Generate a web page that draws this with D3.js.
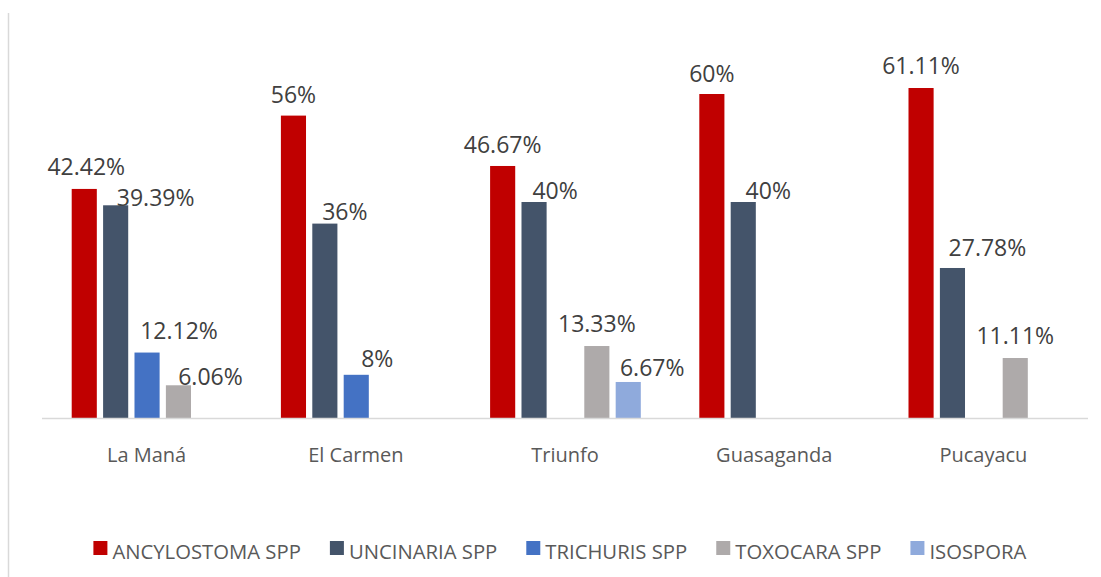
<!DOCTYPE html>
<html lang="es">
<head>
<meta charset="UTF-8">
<title>Parásitos por localidad</title>
<script src="https://cdnjs.cloudflare.com/ajax/libs/d3/7.8.5/d3.min.js"></script>
<style>
  * { margin: 0; padding: 0; }
  body { background: #fff; width: 1101px; height: 577px; overflow: hidden; }
  svg { display: block; font-family: "Open Sans", sans-serif; }
</style>
</head>
<body>
<div id="chart"></div>
<script>
// --- data ---
var localidades = ['La Maná', 'El Carmen', 'Triunfo', 'Guasaganda', 'Pucayacu'];
var seriesNames = ['ANCYLOSTOMA SPP', 'UNCINARIA SPP', 'TRICHURIS SPP', 'TOXOCARA SPP', 'ISOSPORA'];
var ancylostoma = [42.42, 56, 46.67, 60, 61.11];
var uncinaria = [39.39, 36, 40, 40, 27.78];
var trichuris = [12.12, 8, null, null, null];
var toxocara = [6.06, null, 13.33, null, 11.11];
var isospora = [null, null, 6.67, null, null];
var labelText = [
  ['42.42%', '56%', '46.67%', '60%', '61.11%'],
  ['39.39%', '36%', '40%', '40%', '27.78%'],
  ['12.12%', '8%', '', '', ''],
  ['6.06%', '', '13.33%', '', '11.11%'],
  ['', '', '6.67%', '', '']
];

var allSeries = [ancylostoma, uncinaria, trichuris, toxocara, isospora];
var colors = ['#c00000', '#44546a', '#4472c4', '#aeaaaa', '#8faadc'];

// labels were dragged around by hand in the original: [dx from bar centre, gap above bar]
var labelNudge = [
  [[2, 14], [0, 13], [0, 13], [0, 12], [0, 14]],
  [[40, -1], [20, 4], [21, 3], [25, 3], [35, 12]],
  [[32, 14], [21, 8], [0, 0], [0, 0], [0, 0]],
  [[32, 0], [0, 0], [0, 14], [0, 0], [0, 14]],
  [[0, 0], [0, 0], [24, 6], [0, 0], [0, 0]]
];

var width = 1101, height = 577;
var svg = d3.select('#chart').append('svg')
  .attr('width', width)
  .attr('height', height);

// frame line on the left
svg.append('line')
  .attr('x1', 8.5).attr('x2', 8.5)
  .attr('y1', 13).attr('y2', height)
  .attr('stroke', '#d9d9d9')
  .attr('stroke-width', 1.5);

var x0 = d3.scaleBand()
  .domain(localidades)
  .range([42, 1088]);

var x1 = d3.scaleBand()
  .domain(d3.range(seriesNames.length))
  .range([29.7, 180.4])
  .paddingInner(0.2)
  .paddingOuter(0);

var y = d3.scaleLinear()
  .domain([0, 70])
  .range([418, 40]);

var rows = [];
allSeries.forEach(function(vals, s) {
  vals.forEach(function(v, c) {
    if (v !== null) rows.push({ s: s, c: c, v: v });
  });
});

svg.append('g').selectAll('rect')
  .data(rows)
  .enter().append('rect')
  .attr('x', function(d) { return x0(localidades[d.c]) + x1(d.s); })
  .attr('y', function(d) { return y(d.v); })
  .attr('width', x1.bandwidth())
  .attr('height', function(d) { return y(0) - y(d.v); })
  .attr('fill', function(d) { return colors[d.s]; });

// baseline
svg.append('line')
  .attr('x1', 42).attr('x2', 1088)
  .attr('y1', y(0) + 0.5).attr('y2', y(0) + 0.5)
  .attr('stroke', '#d9d9d9')
  .attr('stroke-width', 1.5);

// value labels
svg.append('g').selectAll('text')
  .data(rows)
  .enter().append('text')
  .attr('x', function(d) {
    return x0(localidades[d.c]) + x1(d.s) + x1.bandwidth() / 2 + labelNudge[d.s][d.c][0];
  })
  .attr('y', function(d) { return y(d.v) - labelNudge[d.s][d.c][1]; })
  .attr('text-anchor', 'middle')
  .attr('font-size', '23px')
  .attr('fill', '#404040')
  .text(function(d) { return labelText[d.s][d.c]; });

// category axis
var xAxis = svg.append('g')
  .attr('transform', 'translate(0,' + y(0) + ')')
  .call(d3.axisBottom(x0).tickSize(0).tickPadding(30));
xAxis.select('.domain').remove();
xAxis.selectAll('text')
  .attr('font-family', '"Open Sans", sans-serif')
  .attr('font-size', '20px')
  .attr('fill', '#595959');

// legend
var legend = svg.append('g');
var items = legend.selectAll('g')
  .data(seriesNames)
  .enter().append('g');
items.append('rect')
  .attr('width', 14).attr('height', 14)
  .attr('y', 541)
  .attr('fill', function(d, i) { return colors[i]; });
items.append('text')
  .attr('x', 19)
  .attr('y', 559)
  .attr('font-size', '20.3px')
  .attr('fill', '#595959')
  .text(function(d) { return d; });

var pos = 0;
items.each(function() {
  var w = this.getBBox().width;
  d3.select(this).attr('data-x', pos);
  pos += w + 29;
});
var total = pos - 29;
var start = 560 - total / 2;
items.attr('transform', function() {
  return 'translate(' + (start + (+d3.select(this).attr('data-x'))) + ',0)';
});
</script>
</body>
</html>
